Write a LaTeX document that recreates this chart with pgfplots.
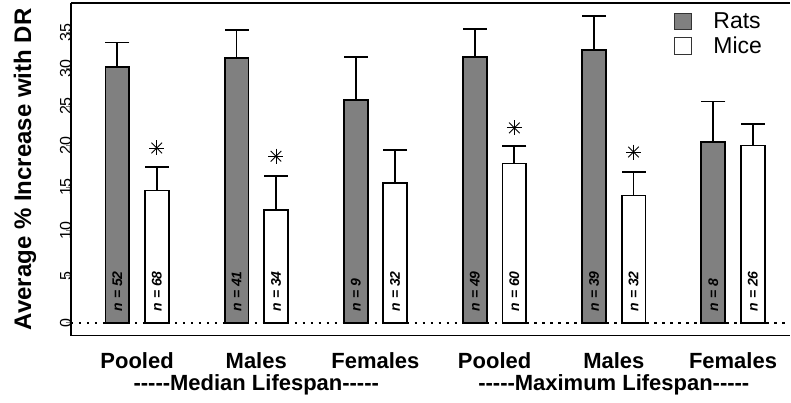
\documentclass[border=0pt]{standalone}
\usepackage{pgfplots}
\pgfplotsset{compat=1.18}
\usepackage{pgfplotstable}
\usepackage{fontspec}
\setmainfont{Liberation Sans}
\definecolor{ratgray}{RGB}{128,128,128}

\pgfplotstableread{
x rat rattop mouse mousetop
0 30.2 33.6 14.6 17.4
1 31.4 35.4 12.3 16.3
2 25.8 31.6 15.5 19.5
3 31.6 35.5 17.8 19.9
4 32.6 37.4 14.0 16.8
5 20.4 25.6 20.0 22.7
}\lifespan

\tikzset{nlab/.style={rotate=90, anchor=west, font=\bfseries\itshape\fontsize{14}{14}\selectfont}}

\begin{document}
\begin{tikzpicture}
\begin{axis}[
  scale only axis, width=720pt, height=333pt,
  xmin=-0.555, xmax=5.48,
  ymin=-1.309, ymax=39.39,
  y coord trafo/.code={\pgfmathparse{(#1)*(1-0.003996*(#1))}},
  clip=false,
  axis lines=left,
  axis line style={-, line width=1.6pt},
  ytick={0,5,10,15,20,25,30,35},
  yticklabels={0,5,10,15,20,25,30,35},
  tick align=outside,
  major tick length=5pt,
  ytick style={line width=1pt},
  yticklabel style={xshift=9pt, rotate=90, anchor=south, font=\fontsize{16}{16}\selectfont},
  xtick={0,1,2,3,4,5},
  xticklabels={Pooled,Males,Females,Pooled,Males,Females},
  xtick style={draw=none},
  xticklabel style={anchor=base, yshift=-28pt, font=\bfseries\fontsize{22}{22}\selectfont},
  ylabel={Average \% Increase with DR},
  ylabel style={font=\bfseries\fontsize{24}{24}\selectfont, at={(axis description cs:-0.064,0.5)}, anchor=center},
  legend style={at={(rel axis cs:0.8375,0.972)}, anchor=north west, draw=none, fill=none,
    inner sep=0pt, row sep=6pt, column sep=22pt,
    nodes={inner sep=0pt, anchor=west},
    font=\fontsize{23}{23}\selectfont},
  legend cell align=left,
]
% dotted zero line
\addplot[forget plot, black, line width=1.6pt, dash pattern=on 2.5pt off 5.5pt] coordinates {(-0.555,0) (5.48,0)};
% error stems + caps (drawn first, bars cover lower part)
\addplot[forget plot, ycomb, black, line width=1.8pt, mark=-, mark size=12pt, mark options={line width=1.8pt}]
  table[x expr=\thisrow{x}-0.1655, y=rattop] {\lifespan};
\addplot[forget plot, ycomb, black, line width=1.8pt, mark=-, mark size=12pt, mark options={line width=1.8pt}]
  table[x expr=\thisrow{x}+0.1655, y=mousetop] {\lifespan};
% bars
\addplot[ybar, bar width=0.2, bar shift=0pt, fill=ratgray, draw=black, line width=1.8pt,
  legend image code/.code={\draw[fill=ratgray, draw=black!80, line width=1pt] (0pt,-8.5pt) rectangle (17pt,8.5pt);}]
  table[x expr=\thisrow{x}-0.1655, y=rat] {\lifespan};
\addlegendentry{Rats}
\addplot[ybar, bar width=0.2, bar shift=0pt, fill=white, draw=black, line width=1.8pt,
  legend image code/.code={\draw[fill=white, draw=black!80, line width=1pt] (0pt,-8.5pt) rectangle (17pt,8.5pt);}]
  table[x expr=\thisrow{x}+0.1655, y=mouse] {\lifespan};
\addlegendentry{Mice}
% significance asterisks
\addplot[forget plot, only marks, black, mark=+, mark size=7.5pt, mark options={line width=0.9pt}]
  coordinates {(0.1655,19.7) (1.1655,18.7) (3.1655,22.2) (4.1655,19.2)};
\addplot[forget plot, only marks, black, mark=x, mark size=7.5pt, mark options={line width=0.9pt}]
  coordinates {(0.1655,19.7) (1.1655,18.7) (3.1655,22.2) (4.1655,19.2)};
% top border
\draw[line width=1.6pt] (rel axis cs:0,1) -- (rel axis cs:1,1);
% n labels
\node[nlab] at (axis cs:-0.1655,0.85) {n = 52};
\node[nlab] at (axis cs:0.8345,0.85) {n = 41};
\node[nlab] at (axis cs:1.8345,0.85) {n = 9};
\node[nlab] at (axis cs:2.8345,0.85) {n = 49};
\node[nlab] at (axis cs:3.8345,0.85) {n = 39};
\node[nlab] at (axis cs:4.8345,0.85) {n = 8};
\node[nlab] at (axis cs:0.1655,0.85) {n = 68};
\node[nlab] at (axis cs:1.1655,0.85) {n = 34};
\node[nlab] at (axis cs:2.1655,0.85) {n = 32};
\node[nlab] at (axis cs:3.1655,0.85) {n = 60};
\node[nlab] at (axis cs:4.1655,0.85) {n = 32};
\node[nlab] at (axis cs:5.1655,0.85) {n = 26};
% group labels
\node[anchor=base, font=\bfseries\fontsize{22}{22}\selectfont] at ([yshift=-55pt]axis cs:1,-1.309) {-{}-{}-{}-{}-Median Lifespan-{}-{}-{}-{}-};
\node[anchor=base, font=\bfseries\fontsize{22}{22}\selectfont] at ([yshift=-55pt]axis cs:4,-1.309) {-{}-{}-{}-{}-Maximum Lifespan-{}-{}-{}-{}-};
\end{axis}
\path ([xshift=-71pt,yshift=-67pt]current axis.south west) rectangle ([yshift=3pt]current axis.north east);
\end{tikzpicture}
\end{document}
